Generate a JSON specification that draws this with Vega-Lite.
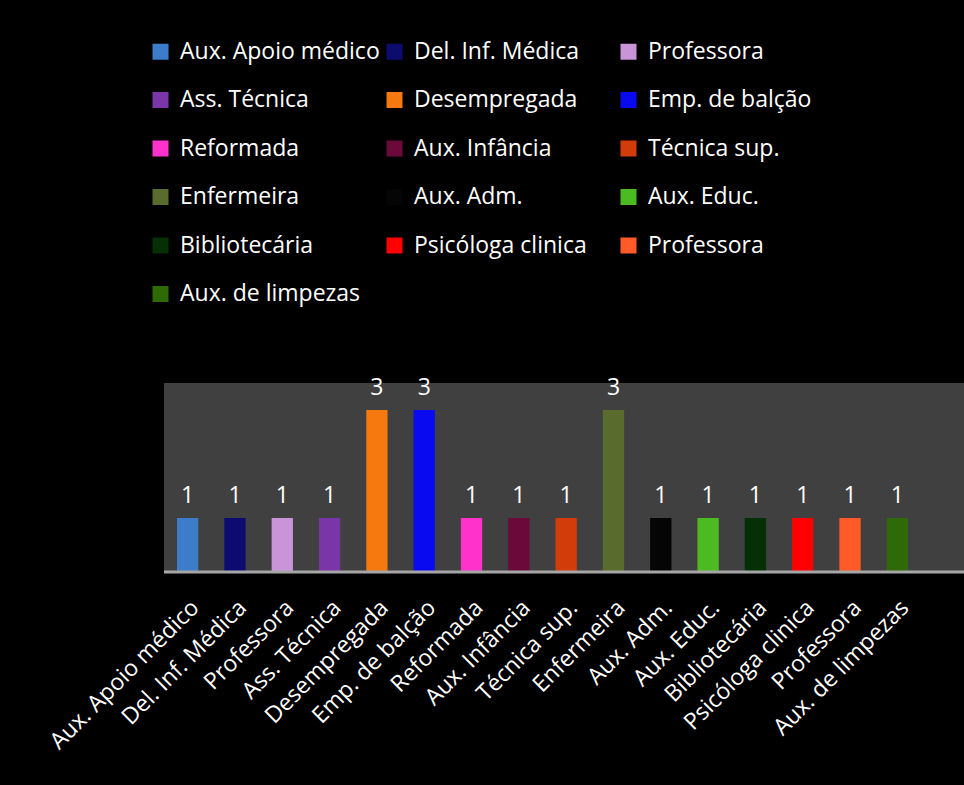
{
  "$schema": "https://vega.github.io/schema/vega-lite/v6.json",
  "width": 800,
  "height": 189,
  "autosize": {"type": "none"},
  "padding": {"left": 164, "top": 383, "right": 0, "bottom": 213},
  "background": "#000000",
  "config": {
    "view": {"fill": "#404040", "stroke": null},
    "font": "Open Sans"
  },
  "data": {
    "values": [
      {"cat": "Aux. Apoio médico", "n": 1},
      {"cat": "Del. Inf. Médica", "n": 1},
      {"cat": "Professora", "n": 1},
      {"cat": "Ass. Técnica", "n": 1},
      {"cat": "Desempregada", "n": 3},
      {"cat": "Emp. de balção", "n": 3},
      {"cat": "Reformada", "n": 1},
      {"cat": "Aux. Infância", "n": 1},
      {"cat": "Técnica sup.", "n": 1},
      {"cat": "Enfermeira", "n": 3},
      {"cat": "Aux. Adm.", "n": 1},
      {"cat": "Aux. Educ.", "n": 1},
      {"cat": "Bibliotecária", "n": 1},
      {"cat": "Psicóloga clinica", "n": 1},
      {"cat": "Professora ", "n": 1},
      {"cat": "Aux. de limpezas", "n": 1}
    ]
  },
  "encoding": {
    "x": {
      "field": "cat",
      "type": "nominal",
      "sort": null,
      "scale": {"range": [0, 757], "paddingInner": 0.55, "paddingOuter": 0.275},
      "axis": {
        "title": null,
        "ticks": false,
        "domain": false,
        "labelAngle": -45,
        "labelAlign": "right",
        "labelBaseline": "top",
        "labelColor": "#ffffff",
        "labelFont": "Open Sans",
        "labelFontSize": 23,
        "labelPadding": 24,
        "labelLimit": 400
      }
    }
  },
  "layer": [
    {
      "mark": {"type": "bar"},
      "encoding": {
        "y": {"field": "n", "type": "quantitative", "scale": {"domain": [0, 3.5], "nice": false}, "axis": null},
        "color": {
          "field": "cat",
          "type": "nominal",
          "sort": null,
          "scale": {
            "domain": ["Aux. Apoio médico", "Del. Inf. Médica", "Professora", "Ass. Técnica", "Desempregada", "Emp. de balção", "Reformada", "Aux. Infância", "Técnica sup.", "Enfermeira", "Aux. Adm.", "Aux. Educ.", "Bibliotecária", "Psicóloga clinica", "Professora ", "Aux. de limpezas"],
            "range": ["#3d7cc9", "#0c0c70", "#c994d8", "#7a35a8", "#f5790e", "#0a0af0", "#ff33cc", "#6b0a3a", "#d23c0a", "#5a6b2e", "#050505", "#4cbb22", "#053005", "#ff0000", "#ff5a28", "#2e6a05"]
          },
          "legend": {
            "title": null,
            "orient": "none",
            "legendX": -15,
            "legendY": -343,
            "direction": "horizontal",
            "columns": 3,
            "gridAlign": "all",
            "columnPadding": 3,
            "rowPadding": 24.5,
            "symbolType": "square",
            "symbolSize": 256,
            "symbolStrokeWidth": 0,
            "symbolOffset": 0,
            "labelOffset": 8,
            "labelColor": "#ffffff",
            "labelFont": "Open Sans",
            "labelFontSize": 23,
            "labelLimit": 400
          }
        }
      }
    },
    {
      "mark": {"type": "text", "color": "#ffffff", "font": "Open Sans", "fontSize": 23, "baseline": "alphabetic", "dy": -15},
      "encoding": {
        "y": {"field": "n", "type": "quantitative"},
        "text": {"field": "n", "type": "quantitative"}
      }
    },
    {
      "data": {"values": [{}]},
      "mark": {"type": "rule", "color": "#a6a6a6", "strokeWidth": 3},
      "encoding": {"y": {"datum": 0}, "x": null}
    }
  ]
}
